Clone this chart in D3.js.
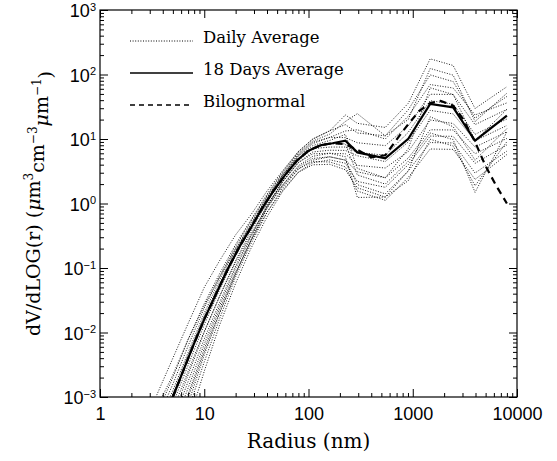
<!DOCTYPE html>
<html lang="en">
<head>
    <meta charset="UTF-8">
    <title>Size distribution</title>
    <script src="https://d3js.org/d3.v7.min.js"></script>
    <style>
        body { margin: 0; background: #fff; }
        svg { font-family: "DejaVu Serif", serif; }
    </style>
</head>
<body>
<script>
// radii (nm) of the daily curves
const dailyRadius = [3.5, 5, 7, 10, 14, 20, 28, 40, 56, 80, 110, 160, 226, 294, 545, 906, 1470, 2440, 3960, 8000];

// daily average curves, one array per day
const day01 = [1.07e-3, 4.0e-3, 0.0138, 0.050, 0.129, 0.327, 0.665, 1.56, 3.16, 6.4, 10, 13.4, 23.6, 17.5, 15.1, 35.8, 175, 138, 29.7, 64.6];
const day02 = [5.4e-4, 2.0e-3, 7.8e-3, 0.028, 0.081, 0.232, 0.553, 1.39, 3.02, 6.4, 10, 13.4, 16.7, 12.4, 11.2, 28.4, 98.6, 77.6, 21.0, 45.7];
const day03 = [3.4e-4, 1.26e-3, 4.9e-3, 0.020, 0.065, 0.197, 0.482, 1.24, 2.69, 5.57, 8.5, 10.6, 13.3, 13.9, 10, 22.6, 69.8, 61.7, 23.6, 36.3];
const day04 = [2.1e-4, 7.9e-4, 3.1e-3, 0.0132, 0.0457, 0.157, 0.42, 1.15, 2.69, 5.83, 8.9, 10.6, 10.5, 8.75, 7.9, 16.0, 49.4, 49.0, 16.7, 28.8];
const day05 = [1.35e-4, 5.0e-4, 2.2e-3, 0.010, 0.036, 0.130, 0.374, 1.05, 2.4, 4.85, 7.1, 7.5, 7.5, 6.2, 5.6, 12.7, 39.3, 34.7, 11.8, 20.4];
const day06 = [8.5e-5, 3.2e-4, 1.38e-3, 6.6e-3, 0.0257, 0.099, 0.297, 0.916, 2.14, 4.3, 6.3, 6.7, 6.65, 5.5, 4.47, 9.0, 27.8, 24.5, 9.4, 16.2];
const day07 = [5.4e-5, 2.0e-4, 9.8e-4, 5.0e-3, 0.0204, 0.082, 0.265, 0.836, 1.9, 3.86, 5.4, 6.0, 5.9, 3.9, 3.55, 6.4, 19.7, 17.4, 7.5, 12.9];
const day08 = [3.4e-5, 1.26e-4, 6.2e-4, 3.5e-3, 0.0162, 0.073, 0.236, 0.728, 1.7, 3.44, 4.7, 5.3, 4.7, 3.1, 2.5, 5.06, 13.9, 13.8, 5.9, 10.2];
const day09 = [2.1e-5, 7.9e-5, 3.9e-4, 2.5e-3, 0.0129, 0.058, 0.2, 0.62, 1.51, 3.06, 4.27, 4.75, 4.2, 2.2, 1.78, 4.0, 11.1, 11.0, 4.2, 8.1];
const day10 = [6.8e-4, 2.2e-3, 7.8e-3, 0.026, 0.072, 0.197, 0.44, 0.98, 1.9, 3.68, 5.0, 5.3, 4.7, 1.96, 1.41, 3.2, 8.8, 8.7, 2.97, 6.5];
const day11 = [1.7e-4, 6.3e-4, 2.5e-3, 0.0105, 0.036, 0.124, 0.333, 0.875, 1.82, 3.44, 4.47, 4.4, 3.7, 1.56, 1.12, 2.54, 7.0, 6.9, 2.36, 5.75];
const day12 = [6.8e-5, 2.5e-4, 1.1e-3, 5.6e-3, 0.023, 0.086, 0.265, 0.728, 1.58, 3.06, 3.98, 4.05, 3.33, 1.75, 1.26, 2.26, 9.9, 7.8, 1.88, 9.1];
const day13 = [4.3e-4, 1.58e-3, 6.2e-3, 0.024, 0.072, 0.216, 0.528, 1.32, 2.88, 6.1, 9.3, 11.9, 18.7, 24.7, 11.2, 20.1, 124, 97.7, 18.7, 51.3];
const day14 = [1.07e-4, 4.0e-4, 1.74e-3, 7.9e-3, 0.029, 0.108, 0.318, 0.916, 2.14, 4.3, 5.9, 6.0, 5.3, 1.24, 1.26, 3.2, 22.1, 15.5, 4.7, 14.5];
const day15 = [3.0e-4, 1.12e-3, 4.4e-3, 0.0178, 0.0575, 0.184, 0.471, 1.24, 2.69, 5.45, 7.9, 9.5, 11.8, 3.5, 2.5, 7.1, 62.2, 49.0, 9.4, 28.8];
const day16 = [4.3e-5, 1.58e-4, 7.8e-4, 4.5e-3, 0.0195, 0.082, 0.265, 0.875, 2.14, 4.6, 7.1, 8.45, 8.4, 2.77, 2.0, 4.5, 12.4, 9.8, 1.49, 12.9];
const dailyCurves = [day01, day02, day03, day04, day05, day06, day07, day08,
    day09, day10, day11, day12, day13, day14, day15, day16];

// 18 days average
const avgRadius = [5, 6, 8, 10, 13, 17, 22, 28, 36, 46, 60, 77, 100, 130, 170, 226, 294, 545, 906, 1470, 2440, 3960, 8000];
const avgValue = [0.001, 0.0021, 0.0068, 0.016, 0.040, 0.10, 0.22, 0.42, 0.85, 1.55, 2.8, 4.6, 6.6, 8.0, 8.6, 9.4, 6.2, 5.0, 10.1, 35, 31, 9.4, 23];

// bilognormal fit
const fitRadius = [5, 6, 8, 10, 13, 17, 22, 28, 36, 46, 60, 77, 100, 130, 170, 226, 294, 400, 545, 700, 906, 1150, 1470, 1850, 2440, 3000, 3960, 5000, 6300, 8000];
const fitValue = [0.001, 0.0021, 0.0068, 0.016, 0.040, 0.10, 0.22, 0.42, 0.85, 1.55, 2.8, 4.6, 6.6, 8.0, 8.6, 8.3, 6.8, 5.2, 5.6, 9.8, 17, 27, 36, 39, 33, 21, 9.0, 3.8, 1.9, 1.0];

const xTicks = [1, 10, 100, 1000, 10000];
const yTicks = [1e-3, 1e-2, 1e-1, 1e0, 1e1, 1e2, 1e3];
const yExponents = ["\u22123", "\u22122", "\u22121", "0", "1", "2", "3"];

const legendItems = [
    { label: "Daily Average", dash: "1,1.6", width: 1 },
    { label: "18 Days Average", dash: null, width: 1.3 },
    { label: "Bilognormal", dash: "5,4", width: 1.3 }
];

const W = 557, H = 461;
const margin = { top: 10, right: 40, bottom: 64, left: 100 };

const svg = d3.select("body").append("svg")
    .attr("width", W)
    .attr("height", H);

const x = d3.scaleLog().domain([1, 10000]).range([margin.left, W - margin.right]);
const y = d3.scaleLog().domain([1e-3, 1e3]).range([H - margin.bottom, margin.top]);

// minor tick positions (2..9 within each decade)
const minorX = [];
for (let e = 0; e < 4; e++) for (let k = 2; k < 10; k++) minorX.push(k * Math.pow(10, e));
const minorY = [];
for (let e = -3; e < 3; e++) for (let k = 2; k < 10; k++) minorY.push(k * Math.pow(10, e));

svg.append("clipPath").attr("id", "plot")
    .append("rect")
    .attr("x", margin.left).attr("y", margin.top)
    .attr("width", x.range()[1] - margin.left)
    .attr("height", y.range()[0] - margin.top);

const line = d3.line()
    .x(d => x(d[0]))
    .y(d => y(d[1]));

const plot = svg.append("g").attr("clip-path", "url(#plot)");

// daily curves
dailyCurves.forEach(vals => {
    plot.append("path")
        .datum(dailyRadius.map((r, i) => [r, vals[i]]))
        .attr("fill", "none")
        .attr("stroke", "#000")
        .attr("stroke-width", 0.9)
        .attr("stroke-dasharray", "1,1.6")
        .attr("d", line);
});

// bilognormal
plot.append("path")
    .datum(fitRadius.map((r, i) => [r, fitValue[i]]))
    .attr("fill", "none")
    .attr("stroke", "#000")
    .attr("stroke-width", 2.2)
    .attr("stroke-dasharray", "7,5")
    .attr("d", line);

// 18 days average
plot.append("path")
    .datum(avgRadius.map((r, i) => [r, avgValue[i]]))
    .attr("fill", "none")
    .attr("stroke", "#000")
    .attr("stroke-width", 2.2)
    .attr("d", line);

// axes
const x0 = x.range()[0], x1 = x.range()[1];
const y0 = y.range()[0], y1 = y.range()[1];

function styleAxis(g) {
    g.select(".domain").remove();
    g.selectAll(".tick line").attr("stroke", "#000").attr("stroke-width", 1);
}

const bottom = svg.append("g")
    .attr("transform", `translate(0,${y0})`)
    .call(d3.axisBottom(x).tickValues(xTicks).tickSize(-8).tickPadding(14)
        .tickFormat(d3.format("d")));
styleAxis(bottom);
bottom.selectAll(".tick text")
    .attr("fill", "#000")
    .attr("dy", "0.5em")
    .style("font-size", "18px");

svg.append("g")
    .attr("transform", `translate(0,${y0})`)
    .call(d3.axisBottom(x).tickValues(minorX).tickSize(-4).tickFormat(""))
    .call(styleAxis);

svg.append("g")
    .attr("transform", `translate(0,${y1})`)
    .call(d3.axisTop(x).tickValues(xTicks).tickSize(-8).tickFormat(""))
    .call(styleAxis);
svg.append("g")
    .attr("transform", `translate(0,${y1})`)
    .call(d3.axisTop(x).tickValues(minorX).tickSize(-4).tickFormat(""))
    .call(styleAxis);

const left = svg.append("g")
    .attr("transform", `translate(${x0},0)`)
    .call(d3.axisLeft(y).tickValues(yTicks).tickSize(-8).tickPadding(4));
styleAxis(left);
left.selectAll(".tick text").each(function (d, i) {
    const t = d3.select(this);
    t.text(null).attr("fill", "#000").style("font-size", "18px").attr("dy", "0.38em");
    t.append("tspan").text("10");
    t.append("tspan").attr("dy", "-0.6em").style("font-size", "11px").text(yExponents[i]);
});

svg.append("g")
    .attr("transform", `translate(${x0},0)`)
    .call(d3.axisLeft(y).tickValues(minorY).tickSize(-4).tickFormat(""))
    .call(styleAxis);

svg.append("g")
    .attr("transform", `translate(${x1},0)`)
    .call(d3.axisRight(y).tickValues(yTicks).tickSize(-8).tickFormat(""))
    .call(styleAxis);
svg.append("g")
    .attr("transform", `translate(${x1},0)`)
    .call(d3.axisRight(y).tickValues(minorY).tickSize(-4).tickFormat(""))
    .call(styleAxis);

// frame
svg.append("rect")
    .attr("x", x0).attr("y", y1)
    .attr("width", x1 - x0).attr("height", y0 - y1)
    .attr("fill", "none").attr("stroke", "#000").attr("stroke-width", 1.2);

// axis titles
svg.append("text")
    .attr("x", (x0 + x1) / 2)
    .attr("y", H - 13)
    .attr("text-anchor", "middle")
    .style("font-size", "20px")
    .text("Radius (nm)");

const yTitle = svg.append("text")
    .attr("transform", `translate(40,${(y0 + y1) / 2}) rotate(-90)`)
    .attr("text-anchor", "middle")
    .style("font-size", "19px");
yTitle.append("tspan").text("dV/dLOG(r)  (");
yTitle.append("tspan").style("font-style", "italic").text("\u03bc");
yTitle.append("tspan").text("m");
yTitle.append("tspan").attr("dy", "-0.55em").style("font-size", "12px").text("3");
yTitle.append("tspan").attr("dy", "0.55em").text("cm");
yTitle.append("tspan").attr("dy", "-0.55em").style("font-size", "12px").text("\u22123");
yTitle.append("tspan").attr("dy", "0.55em").style("font-style", "italic").text("\u03bc");
yTitle.append("tspan").text("m");
yTitle.append("tspan").attr("dy", "-0.55em").style("font-size", "12px").text("\u22121");
yTitle.append("tspan").attr("dy", "0.55em").text(")");

// legend
const legend = svg.append("g");
legendItems.forEach((item, i) => {
    const ly = 41 + i * 32;
    legend.append("line")
        .attr("x1", 130).attr("x2", 193)
        .attr("y1", ly).attr("y2", ly)
        .attr("stroke", "#000")
        .attr("stroke-width", item.width)
        .attr("stroke-dasharray", item.dash);
    legend.append("text")
        .attr("x", 203).attr("y", ly + 2)
        .style("font-size", "16.5px")
        .text(item.label);
});
</script>
</body>
</html>
